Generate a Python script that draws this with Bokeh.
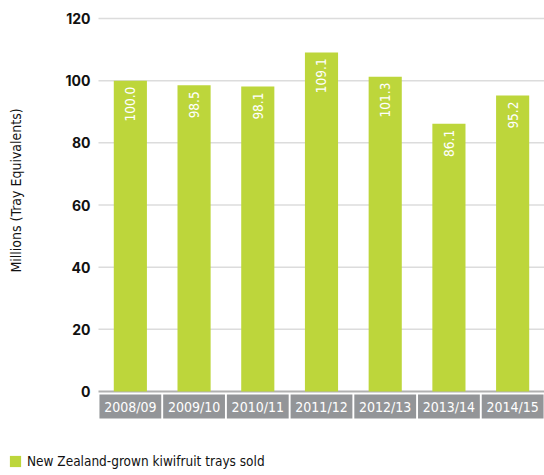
import math
from bokeh.plotting import figure
from bokeh.models import Range1d, Legend, LegendItem, ColumnDataSource
from bokeh.core.properties import value
from bokeh.embed import file_html
from bokeh.resources import INLINE

seasons = ["2008/09", "2009/10", "2010/11", "2011/12", "2012/13", "2013/14", "2014/15"]
trays = [100.0, 98.5, 98.1, 109.1, 101.3, 86.1, 95.2]
y_ticks = [0, 20, 40, 60, 80, 100, 120]
series_name = "New Zealand-grown kiwifruit trays sold"
y_title = "Millions (Tray Equivalents)"

GREEN = "#bdd63b"
GREY = "#939598"
COND = "DejaVu Sans Condensed, Liberation Sans Narrow, sans-serif"

n = len(seasons)
xc = [i + 0.5 for i in range(n)]          # category centres on a numeric scale
X0 = -1.538                                # left margin for tick labels / title

src = ColumnDataSource(dict(x=xc, top=trays, lab=["%.1f" % v for v in trays]))

p = figure(width=544, height=475, output_backend="svg", toolbar_location=None,
           x_range=Range1d(X0, n), y_range=Range1d(-27.02, 125.79),
           x_axis_location=None, y_axis_location=None,
           min_border=0)
p.outline_line_color = None
p.xgrid.visible = False
p.ygrid.visible = False

# gridlines
p.segment(x0=[0] * (len(y_ticks) - 1), x1=[n] * (len(y_ticks) - 1),
          y0=y_ticks[1:], y1=y_ticks[1:], line_color="#dcdcdc", line_width=1.5)
# baseline
p.segment(x0=[0], x1=[n], y0=[0], y1=[0], line_color="#b0b0b0", line_width=2)

# y tick labels
p.text(x=[0] * len(y_ticks), y=y_ticks, text=[str(t) for t in y_ticks], x_offset=-8,
       text_align="right", text_baseline="middle", text_color="#111111",
       text_font=value("Inter"), text_font_style="bold", text_font_size="14px")

bars = p.vbar(x="x", top="top", bottom=0, width=0.52, source=src,
              fill_color=GREEN, line_color=None)

# value labels (rotated, inside the bar top)
p.text(x="x", y="top", text="lab", source=src, angle=math.pi / 2, y_offset=6,
       text_align="right", text_baseline="middle", text_color="white",
       text_font=value(COND), text_font_size="13.5px")

# category label boxes
p.vbar(x=xc, top=-0.97, bottom=-8.7, width=0.97, fill_color=GREY, line_color=None)
p.text(x=xc, y=[-4.85] * n, text=seasons, text_align="center",
       text_baseline="middle", text_color="white", text_font=value(COND),
       text_font_size="14px")

# y-axis title
p.text(x=[X0], y=[64.7], text=[y_title], x_offset=15, angle=math.pi / 2,
       text_align="center", text_baseline="middle", text_color="#111111",
       text_font=value(COND), text_font_size="14px")

legend = Legend(items=[LegendItem(label=series_name, renderers=[bars])],
                location=(8, 6), glyph_width=14, glyph_height=14, label_standoff=5,
                padding=0, margin=0, border_line_alpha=0, background_fill_alpha=0,
                label_text_font=COND, label_text_font_size="13.5px", label_height=14,
                label_text_color="#111111", label_text_baseline="middle")
p.add_layout(legend)

open("out.html", "w").write(file_html(p, INLINE))
